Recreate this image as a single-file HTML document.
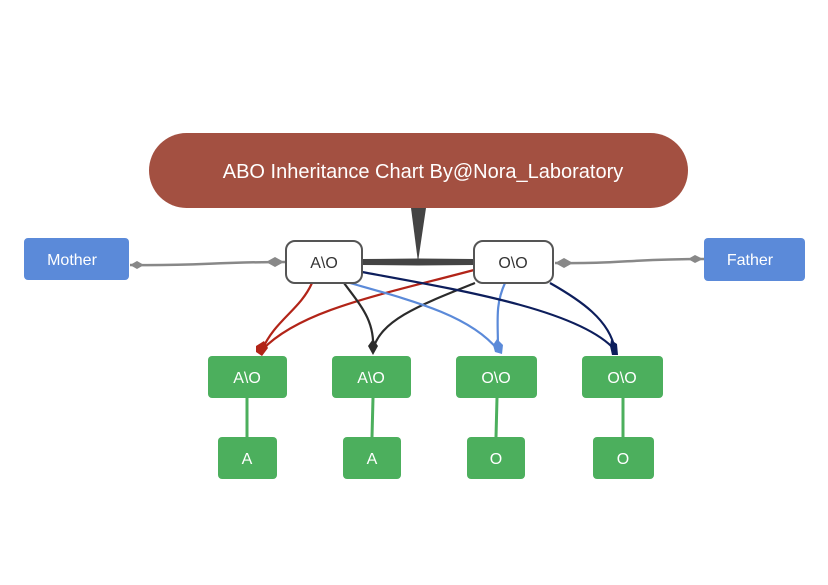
<!DOCTYPE html>
<html><head><meta charset="utf-8"><style>
html,body{margin:0;padding:0;background:#fff;}
svg{display:block;}
text{font-family:"Liberation Sans",Arial,sans-serif;}
</style></head><body>
<svg width="828" height="585" viewBox="0 0 828 585" xmlns="http://www.w3.org/2000/svg">
<rect width="828" height="585" fill="#fff"/>
<!-- title -->
<rect x="149" y="133" width="539" height="75" rx="37.5" fill="#a35041"/>
<text x="423" y="178" font-size="20" fill="#fff" text-anchor="middle">ABO Inheritance Chart By@Nora_Laboratory</text>
<!-- thick connectors -->
<polygon points="411,208 426,208 418,262" fill="#444"/>
<polygon points="362,259 418,258.5 474,259 474,265 418,265.5 362,265" fill="#444"/>
<!-- gray lines -->
<path d="M130,265 C200,266 210,262 286,262" stroke="#888" stroke-width="2.5" fill="none"/>
<polygon points="130,265 137,261 144,265 137,269" fill="#888"/>
<polygon points="266,262 275,257 284,262 275,267" fill="#888"/>
<path d="M555,263 C620,264 630,259 704,259" stroke="#888" stroke-width="2.5" fill="none"/>
<polygon points="555,263 564,258 573,263 564,268" fill="#888"/>
<polygon points="688,259 695,255 703,259 695,263" fill="#888"/>
<!-- curves -->
<g fill="none" stroke-width="2.2">
<path d="M312,283 C300,310 275,320 262,350" stroke="#b22418"/>
<path d="M474,270 C380,295 300,310 262,350" stroke="#b22418"/>
<path d="M344,283 C360,305 375,320 373,350" stroke="#2b2b2b"/>
<path d="M475,283 C420,305 380,320 373,350" stroke="#2b2b2b"/>
<path d="M350,283 C410,300 470,315 498,350" stroke="#5b8ad9"/>
<path d="M505,283 C495,305 498,320 498,350" stroke="#5b8ad9"/>
<path d="M362,272 C460,290 580,310 615,350" stroke="#0d1e5c"/>
<path d="M550,283 C580,300 610,320 615,350" stroke="#0d1e5c"/>
</g>
<polygon points="256,346 264,341 268,348 262,356 256,352" fill="#b22418"/>
<polygon points="373,339 378,346 373,355 368,346" fill="#2b2b2b"/>
<polygon points="497,339 503,345 502,354 495,352 493,345" fill="#5b8ad9"/>
<polygon points="611,340 617,344 618,355 612,355 610,346" fill="#0d1e5c"/>
<!-- parent nodes -->
<rect x="286" y="241" width="76" height="42" rx="9" fill="#fff" stroke="#555" stroke-width="2"/>
<text x="324" y="268" font-size="16" fill="#333" text-anchor="middle">A\O</text>
<rect x="474" y="241" width="79" height="42" rx="9" fill="#fff" stroke="#555" stroke-width="2"/>
<text x="513" y="268" font-size="16" fill="#333" text-anchor="middle">O\O</text>
<!-- mother/father -->
<rect x="24" y="238" width="105" height="42" rx="4" fill="#5b8ad9"/>
<text x="72" y="265" font-size="16" fill="#fff" text-anchor="middle">Mother</text>
<rect x="704" y="238" width="101" height="43" rx="4" fill="#5b8ad9"/>
<text x="750" y="265" font-size="16" fill="#fff" text-anchor="middle">Father</text>
<!-- green -->
<g stroke="#4caf5d" stroke-width="3">
<line x1="247" y1="398" x2="247" y2="437"/>
<line x1="373" y1="398" x2="372" y2="437"/>
<line x1="497" y1="398" x2="496" y2="437"/>
<line x1="623" y1="398" x2="623" y2="437"/>
</g>
<g fill="#4caf5d">
<rect x="208" y="356" width="79" height="42" rx="4"/>
<rect x="332" y="356" width="79" height="42" rx="4"/>
<rect x="456" y="356" width="81" height="42" rx="4"/>
<rect x="582" y="356" width="81" height="42" rx="4"/>
<rect x="218" y="437" width="59" height="42" rx="4"/>
<rect x="343" y="437" width="58" height="42" rx="4"/>
<rect x="467" y="437" width="58" height="42" rx="4"/>
<rect x="593" y="437" width="61" height="42" rx="4"/>
</g>
<g font-size="16" fill="#fff" text-anchor="middle">
<text x="247" y="383">A\O</text>
<text x="371" y="383">A\O</text>
<text x="496" y="383">O\O</text>
<text x="622" y="383">O\O</text>
<text x="247" y="464">A</text>
<text x="372" y="464">A</text>
<text x="496" y="464">O</text>
<text x="623" y="464">O</text>
</g>
</svg>
</body></html>
